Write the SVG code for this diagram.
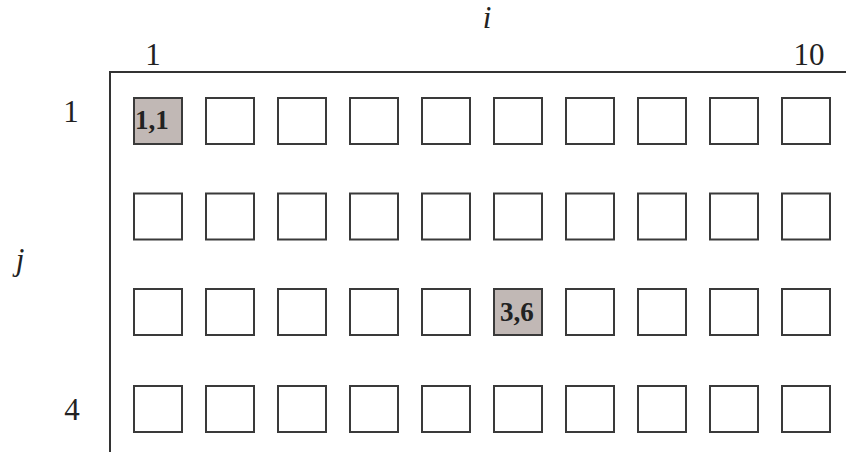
<svg xmlns="http://www.w3.org/2000/svg" width="846" height="452" viewBox="0 0 846 452">
<style>
.lbl{font-family:'Liberation Serif','Times New Roman',Times,serif;font-size:31px;fill:#222}
.it{font-style:italic}
.b{fill:#fff;stroke:#3a3a3a;stroke-width:2}
.s{fill:#c1b8b5;stroke:#3a3a3a;stroke-width:2}
.bt{font-family:'Liberation Serif','Times New Roman',Times,serif;font-size:27px;font-weight:bold;fill:#222}
.ax{stroke:#333;stroke-width:2;fill:none}
</style>
<rect width="846" height="452" fill="#fff"/>
<g id="axes">
<path class="ax" d="M110,452 V72 H846"/>
</g>
<g id="labels">
<text class="lbl it" x="487" y="28" text-anchor="middle">i</text>
<text class="lbl" x="153" y="65" text-anchor="middle">1</text>
<text class="lbl" x="809" y="65" text-anchor="middle">10</text>
<text class="lbl" x="71" y="122" text-anchor="middle">1</text>
<text class="lbl it" x="20" y="270" text-anchor="middle">j</text>
<text class="lbl" x="72" y="420" text-anchor="middle">4</text>
</g>
<g id="grid">
<g id="row1">
<g id="n1-1"><rect class="s" x="134" y="98" width="48" height="46"/><text class="bt" x="135" y="129">1,1</text></g>
<rect class="b" x="206" y="98" width="48" height="46"/>
<rect class="b" x="278" y="98" width="48" height="46"/>
<rect class="b" x="350" y="98" width="48" height="46"/>
<rect class="b" x="422" y="98" width="48" height="46"/>
<rect class="b" x="494" y="98" width="48" height="46"/>
<rect class="b" x="566" y="98" width="48" height="46"/>
<rect class="b" x="638" y="98" width="48" height="46"/>
<rect class="b" x="710" y="98" width="48" height="46"/>
<rect class="b" x="782" y="98" width="48" height="46"/>
</g>
<g id="row2">
<rect class="b" x="134" y="193.5" width="48" height="46"/>
<rect class="b" x="206" y="193.5" width="48" height="46"/>
<rect class="b" x="278" y="193.5" width="48" height="46"/>
<rect class="b" x="350" y="193.5" width="48" height="46"/>
<rect class="b" x="422" y="193.5" width="48" height="46"/>
<rect class="b" x="494" y="193.5" width="48" height="46"/>
<rect class="b" x="566" y="193.5" width="48" height="46"/>
<rect class="b" x="638" y="193.5" width="48" height="46"/>
<rect class="b" x="710" y="193.5" width="48" height="46"/>
<rect class="b" x="782" y="193.5" width="48" height="46"/>
</g>
<g id="row3">
<rect class="b" x="134" y="289" width="48" height="46"/>
<rect class="b" x="206" y="289" width="48" height="46"/>
<rect class="b" x="278" y="289" width="48" height="46"/>
<rect class="b" x="350" y="289" width="48" height="46"/>
<rect class="b" x="422" y="289" width="48" height="46"/>
<g id="n3-6"><rect class="s" x="494" y="289" width="48" height="46"/><text class="bt" x="500" y="321">3,6</text></g>
<rect class="b" x="566" y="289" width="48" height="46"/>
<rect class="b" x="638" y="289" width="48" height="46"/>
<rect class="b" x="710" y="289" width="48" height="46"/>
<rect class="b" x="782" y="289" width="48" height="46"/>
</g>
<g id="row4">
<rect class="b" x="134" y="386" width="48" height="46"/>
<rect class="b" x="206" y="386" width="48" height="46"/>
<rect class="b" x="278" y="386" width="48" height="46"/>
<rect class="b" x="350" y="386" width="48" height="46"/>
<rect class="b" x="422" y="386" width="48" height="46"/>
<rect class="b" x="494" y="386" width="48" height="46"/>
<rect class="b" x="566" y="386" width="48" height="46"/>
<rect class="b" x="638" y="386" width="48" height="46"/>
<rect class="b" x="710" y="386" width="48" height="46"/>
<rect class="b" x="782" y="386" width="48" height="46"/>
</g>
</g>
</svg>
